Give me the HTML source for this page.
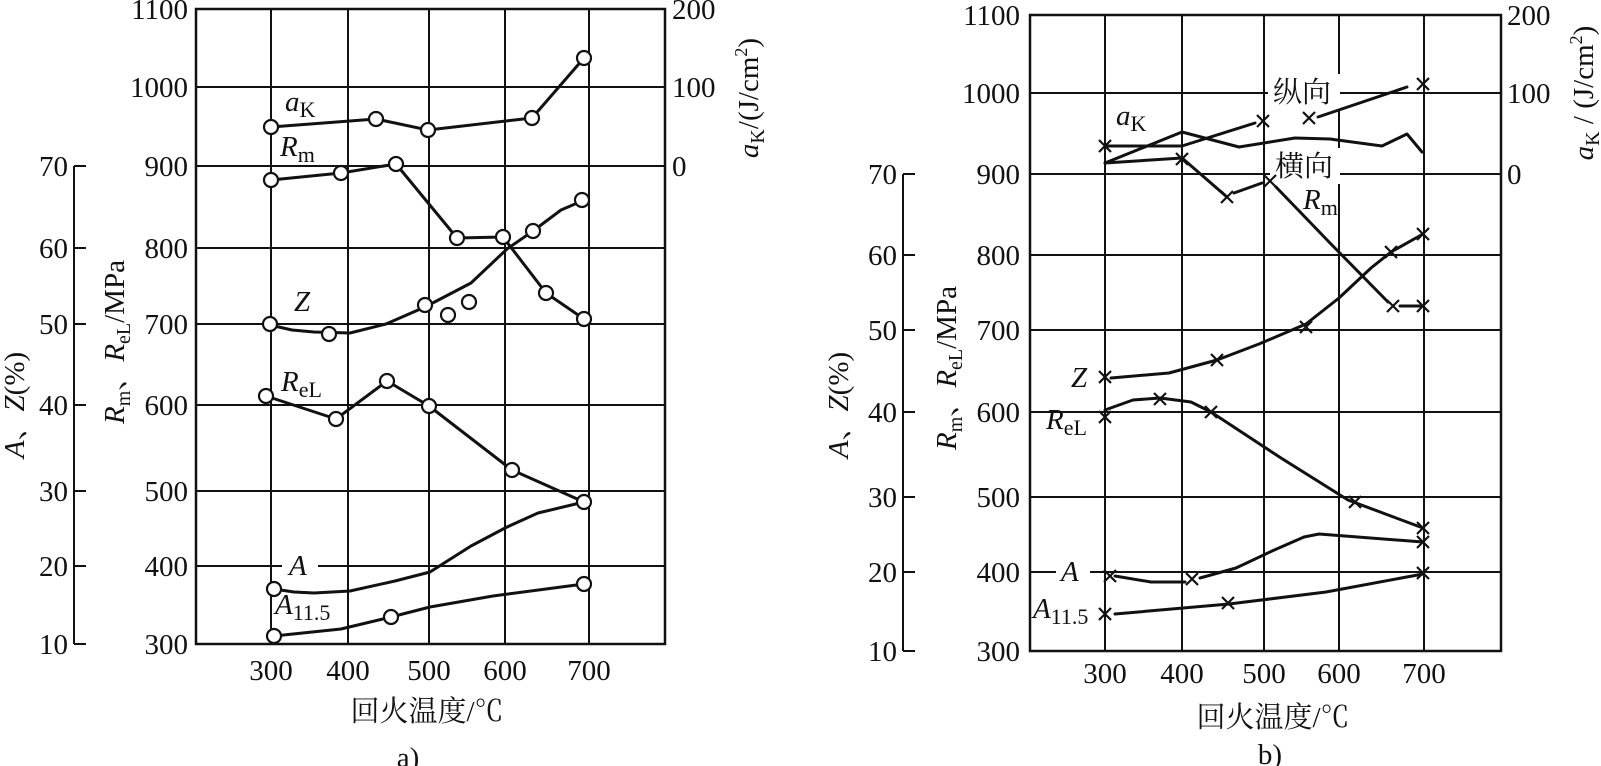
<!DOCTYPE html>
<html><head><meta charset="utf-8"><style>
html,body{margin:0;padding:0;background:#fff;}
svg{display:block;}
text{font-family:"Liberation Serif","Noto Serif CJK SC",serif;fill:#111;}
.t{font-size:29px;}
.i{font-style:italic;}
</style></head><body>
<svg width="1601" height="766" viewBox="0 0 1601 766" xmlns="http://www.w3.org/2000/svg">
<g stroke="#111" fill="none">
<g stroke-width="2">
<line x1="271" y1="9" x2="271" y2="644"/><line x1="348" y1="9" x2="348" y2="644"/>
<line x1="429" y1="9" x2="429" y2="644"/><line x1="505" y1="9" x2="505" y2="644"/>
<line x1="589" y1="9" x2="589" y2="644"/>
<line x1="196" y1="87" x2="665" y2="87"/><line x1="196" y1="166" x2="665" y2="166"/>
<line x1="196" y1="248" x2="665" y2="248"/><line x1="196" y1="324" x2="665" y2="324"/>
<line x1="196" y1="405" x2="665" y2="405"/><line x1="196" y1="491" x2="665" y2="491"/>
<line x1="196" y1="566" x2="665" y2="566"/>
</g>
<rect x="196" y="9" width="469" height="635" stroke-width="2.5"/>
<g stroke-width="2">
<line x1="74" y1="166" x2="74" y2="644"/>
<line x1="74" y1="166" x2="86" y2="166"/><line x1="74" y1="248" x2="86" y2="248"/>
<line x1="74" y1="324" x2="86" y2="324"/><line x1="74" y1="405" x2="86" y2="405"/>
<line x1="74" y1="491" x2="86" y2="491"/><line x1="74" y1="566" x2="86" y2="566"/>
<line x1="74" y1="644" x2="86" y2="644"/>
</g>
<g stroke-width="3" stroke-linejoin="round" stroke-linecap="round">
<polyline points="271,127 376,119 428,130 532,118 584,58"/>
<polyline points="271,180 341,173 396,164 457,238 503,237 546,293 584,319"/>
<polyline points="270,325 292,330 314,332 350,333 386,324 425,307 471,283 507,249 533,231 561,210 582,201"/>
<polyline points="266,396 336,419 387,381 429,406 512,470 584,502"/>
<polyline points="274,589 294,592 314,593 350,591 395,581 430,572 471,546 507,527 538,513 584,502"/>
<polyline points="274,636 341,629 391,617 430,607 493,596 584,584"/>
</g>
<rect x="282" y="552" width="36" height="26" fill="#fff" stroke="none"/>
<g stroke-width="2.2" fill="#fff">
<circle cx="271" cy="127" r="7"/><circle cx="376" cy="119" r="7"/><circle cx="428" cy="130" r="7"/><circle cx="532" cy="118" r="7"/><circle cx="584" cy="58" r="7"/>
<circle cx="271" cy="180" r="7"/><circle cx="341" cy="173" r="7"/><circle cx="396" cy="164" r="7"/><circle cx="457" cy="238" r="7"/><circle cx="503" cy="237" r="7"/><circle cx="546" cy="293" r="7"/><circle cx="584" cy="319" r="7"/>
<circle cx="270" cy="324" r="7"/><circle cx="329" cy="334" r="7"/><circle cx="425" cy="305" r="7"/><circle cx="448" cy="315" r="7"/><circle cx="469" cy="302" r="7"/><circle cx="533" cy="231" r="7"/><circle cx="582" cy="200" r="7"/>
<circle cx="266" cy="396" r="7"/><circle cx="336" cy="419" r="7"/><circle cx="387" cy="381" r="7"/><circle cx="429" cy="406" r="7"/><circle cx="512" cy="470" r="7"/><circle cx="584" cy="502" r="7"/>
<circle cx="274" cy="589" r="7"/>
<circle cx="274" cy="636" r="7"/><circle cx="391" cy="617" r="7"/><circle cx="584" cy="584" r="7"/>
</g>

<g stroke-width="2">
<line x1="1105" y1="15" x2="1105" y2="651"/><line x1="1182" y1="15" x2="1182" y2="651"/>
<line x1="1264" y1="15" x2="1264" y2="651"/><line x1="1339" y1="15" x2="1339" y2="651"/>
<line x1="1424" y1="15" x2="1424" y2="651"/>
<line x1="1030" y1="93" x2="1501" y2="93"/><line x1="1030" y1="174" x2="1501" y2="174"/>
<line x1="1030" y1="255" x2="1501" y2="255"/><line x1="1030" y1="330" x2="1501" y2="330"/>
<line x1="1030" y1="412" x2="1501" y2="412"/><line x1="1030" y1="497" x2="1501" y2="497"/>
<line x1="1030" y1="572" x2="1501" y2="572"/>
</g>
<rect x="1030" y="15" width="471" height="636" stroke-width="2.5"/>
<g stroke-width="2">
<line x1="903" y1="174" x2="903" y2="651"/>
<line x1="903" y1="174" x2="915" y2="174"/><line x1="903" y1="255" x2="915" y2="255"/>
<line x1="903" y1="330" x2="915" y2="330"/><line x1="903" y1="412" x2="915" y2="412"/>
<line x1="903" y1="497" x2="915" y2="497"/><line x1="903" y1="572" x2="915" y2="572"/>
<line x1="903" y1="651" x2="915" y2="651"/>
</g>
<g fill="#fff" stroke="none">
<rect x="1268" y="74" width="72" height="36"/>
<rect x="1270" y="148" width="70" height="36"/>
<rect x="1056" y="556" width="34" height="30"/>
</g>
<g stroke-width="3" stroke-linejoin="round" stroke-linecap="round">
<polyline points="1105,146 1182,146 1255,123"/>
<polyline points="1318,117 1407,87"/>
<polyline points="1105,163 1182,132 1239,147 1295,138 1330,139 1382,146 1407,134 1422,152"/>
<polyline points="1105,163 1182,158 1227,197"/>
<polyline points="1234,193 1262,183"/>
<polyline points="1276,187 1330,243 1388,302"/>
<polyline points="1400,306 1423,306"/>
<polyline points="1111,378 1169,373 1217,360 1259,344 1306,324 1339,298 1371,268 1391,252 1423,234"/>
<polyline points="1105,410 1133,400 1160,398 1191,402 1211,412 1281,458 1348,500 1423,528"/>
<polyline points="1115,576 1151,582 1185,582"/>
<polyline points="1200,578 1236,568 1272,551 1304,537 1319,534 1423,542"/>
<polyline points="1115,614 1229,604 1326,592 1423,574"/>
</g>
<g stroke-width="2.2">
<path d="M1099,140l12,12M1111,140l-12,12"/>
<path d="M1257,115l12,12M1269,115l-12,12"/>
<path d="M1303,112l12,12M1315,112l-12,12"/>
<path d="M1417,78l12,12M1429,78l-12,12"/>
<path d="M1176,153l12,12M1188,153l-12,12"/>
<path d="M1221,191l12,12M1233,191l-12,12"/>
<path d="M1264,175l12,12M1276,175l-12,12"/>
<path d="M1387,300l12,12M1399,300l-12,12"/>
<path d="M1417,300l12,12M1429,300l-12,12"/>
<path d="M1099,371l12,12M1111,371l-12,12"/>
<path d="M1211,354l12,12M1223,354l-12,12"/>
<path d="M1300,321l12,12M1312,321l-12,12"/>
<path d="M1385,246l12,12M1397,246l-12,12"/>
<path d="M1417,228l12,12M1429,228l-12,12"/>
<path d="M1099,411l12,12M1111,411l-12,12"/>
<path d="M1154,393l12,12M1166,393l-12,12"/>
<path d="M1205,406l12,12M1217,406l-12,12"/>
<path d="M1349,496l12,12M1361,496l-12,12"/>
<path d="M1417,522l12,12M1429,522l-12,12"/>
<path d="M1417,536l12,12M1429,536l-12,12"/>
<path d="M1104,570l12,12M1116,570l-12,12"/>
<path d="M1186,573l12,12M1198,573l-12,12"/>
<path d="M1099,608l12,12M1111,608l-12,12"/>
<path d="M1222,597l12,12M1234,597l-12,12"/>
<path d="M1417,567l12,12M1429,567l-12,12"/>
</g>
</g>

<g class="t" text-anchor="end">
<text x="188" y="19">1100</text><text x="188" y="97">1000</text><text x="188" y="176">900</text>
<text x="188" y="258">800</text><text x="188" y="334">700</text><text x="188" y="415">600</text>
<text x="188" y="501">500</text><text x="188" y="576">400</text><text x="188" y="654">300</text>
<text x="68" y="176">70</text><text x="68" y="258">60</text><text x="68" y="334">50</text>
<text x="68" y="415">40</text><text x="68" y="501">30</text><text x="68" y="576">20</text><text x="68" y="654">10</text>
</g>
<g class="t">
<text x="672" y="19">200</text><text x="672" y="97">100</text><text x="672" y="176">0</text>
</g>
<g class="t" text-anchor="middle">
<text x="271" y="680">300</text><text x="348" y="680">400</text><text x="429" y="680">500</text>
<text x="505" y="680">600</text><text x="589" y="680">700</text>
<text x="427" y="721">回火温度/℃</text>
<text x="408" y="767">a)</text>
</g>
<text class="t" transform="translate(124,342) rotate(-90)" text-anchor="middle"><tspan class="i">R</tspan><tspan font-size="20" dy="6">m</tspan><tspan dy="-6">、</tspan><tspan class="i">R</tspan><tspan font-size="20" dy="6">eL</tspan><tspan dy="-6">/MPa</tspan></text>
<text class="t" transform="translate(24,405) rotate(-90)" text-anchor="middle"><tspan class="i">A</tspan>、<tspan class="i">Z</tspan>(%)</text>
<text class="t" transform="translate(758,98) rotate(-90)" text-anchor="middle"><tspan class="i">a</tspan><tspan font-size="20" dy="6">K</tspan><tspan dy="-6">/(J/cm</tspan><tspan font-size="18" dy="-11">2</tspan><tspan dy="11">)</tspan></text>
<text class="t" x="285" y="111"><tspan class="i">a</tspan><tspan font-size="22" dy="6">K</tspan></text>
<text class="t" x="280" y="156"><tspan class="i">R</tspan><tspan font-size="22" dy="6">m</tspan></text>
<text class="t i" x="294" y="311">Z</text>
<text class="t" x="281" y="391"><tspan class="i">R</tspan><tspan font-size="22" dy="6">eL</tspan></text>
<text class="t i" x="289" y="575">A</text>
<text class="t" x="275" y="614"><tspan class="i">A</tspan><tspan font-size="22" dy="6">11.5</tspan></text>

<g class="t" text-anchor="end">
<text x="1020" y="25">1100</text><text x="1020" y="103">1000</text><text x="1020" y="184">900</text>
<text x="1020" y="265">800</text><text x="1020" y="340">700</text><text x="1020" y="422">600</text>
<text x="1020" y="507">500</text><text x="1020" y="582">400</text><text x="1020" y="661">300</text>
<text x="897" y="184">70</text><text x="897" y="265">60</text><text x="897" y="340">50</text>
<text x="897" y="422">40</text><text x="897" y="507">30</text><text x="897" y="582">20</text><text x="897" y="661">10</text>
</g>
<g class="t">
<text x="1507" y="25">200</text><text x="1507" y="103">100</text><text x="1507" y="184">0</text>
</g>
<g class="t" text-anchor="middle">
<text x="1105" y="683">300</text><text x="1182" y="683">400</text><text x="1264" y="683">500</text>
<text x="1339" y="683">600</text><text x="1424" y="683">700</text>
<text x="1273" y="727">回火温度/℃</text>
<text x="1270" y="764">b)</text>
</g>
<text class="t" transform="translate(956,368) rotate(-90)" text-anchor="middle"><tspan class="i">R</tspan><tspan font-size="20" dy="6">m</tspan><tspan dy="-6">、</tspan><tspan class="i">R</tspan><tspan font-size="20" dy="6">eL</tspan><tspan dy="-6">/MPa</tspan></text>
<text class="t" transform="translate(848,405) rotate(-90)" text-anchor="middle"><tspan class="i">A</tspan>、<tspan class="i">Z</tspan>(%)</text>
<text class="t" transform="translate(1593,93) rotate(-90)" text-anchor="middle"><tspan class="i">a</tspan><tspan font-size="20" dy="6">K</tspan><tspan dy="-6"> / (J/cm</tspan><tspan font-size="18" dy="-11">2</tspan><tspan dy="11">)</tspan></text>
<text class="t" x="1273" y="102">纵向</text>
<text class="t" x="1275" y="176">横向</text>
<text class="t" x="1303" y="209"><tspan class="i">R</tspan><tspan font-size="22" dy="6">m</tspan></text>
<text class="t" x="1116" y="125"><tspan class="i">a</tspan><tspan font-size="22" dy="6">K</tspan></text>
<text class="t i" x="1071" y="387">Z</text>
<text class="t" x="1046" y="429"><tspan class="i">R</tspan><tspan font-size="22" dy="6">eL</tspan></text>
<text class="t i" x="1061" y="581">A</text>
<text class="t" x="1033" y="618"><tspan class="i">A</tspan><tspan font-size="22" dy="6">11.5</tspan></text>
</svg>
</body></html>
